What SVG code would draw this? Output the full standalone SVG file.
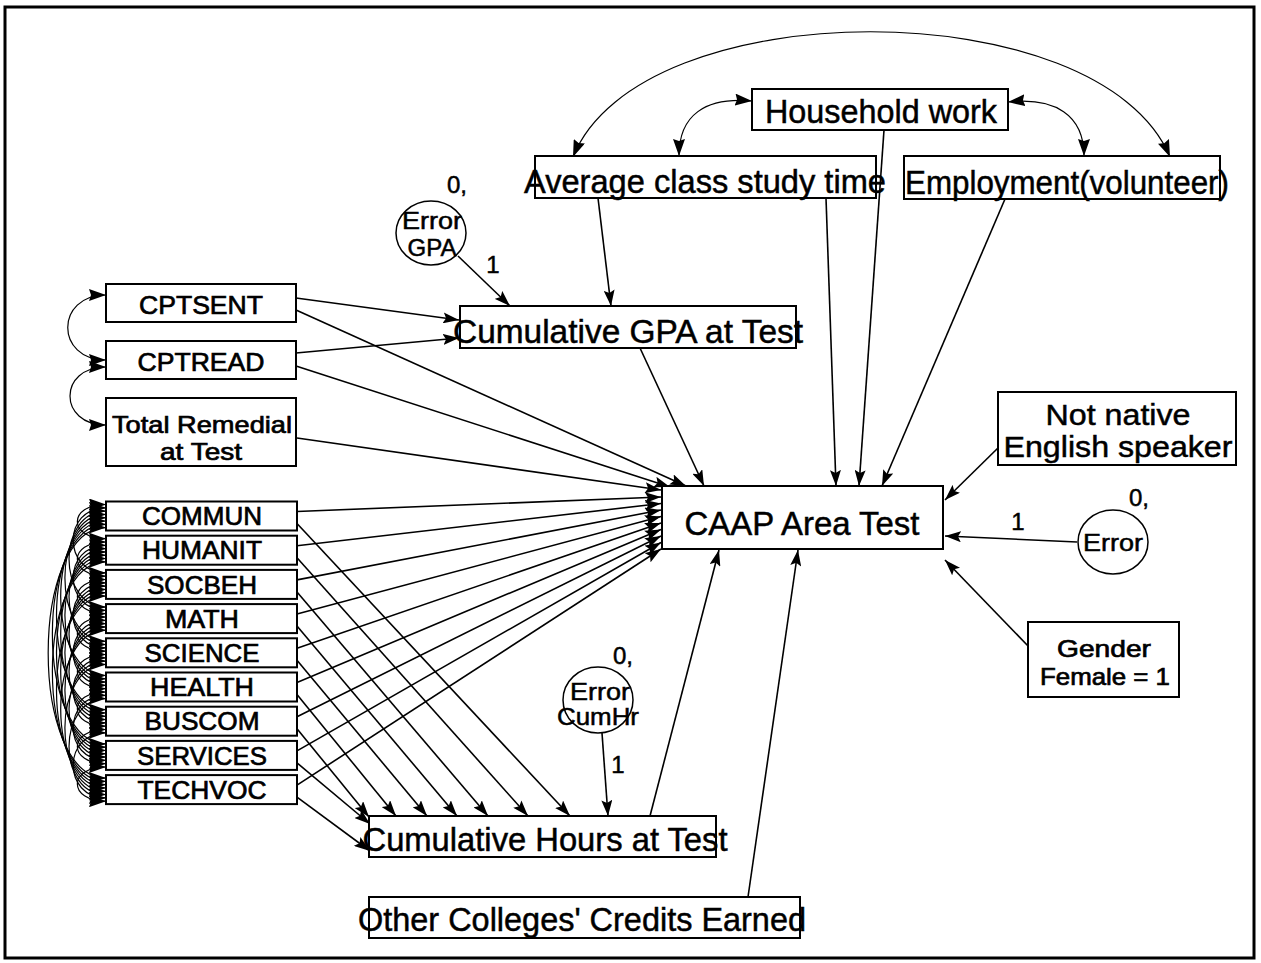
<svg xmlns="http://www.w3.org/2000/svg" width="1261" height="963" viewBox="0 0 1261 963">
<style>
.box{fill:#fff;stroke:#000;stroke-width:2}
.ell{fill:#fff;stroke:#000;stroke-width:1.5}
.t{font-family:"Liberation Sans",Arial,sans-serif;fill:#000;text-anchor:middle;stroke:#000;stroke-width:0.5}
.big{font-size:34px}
.two{font-size:30px}
.med{font-size:26px;stroke-width:0.7}
.med2{font-size:24px;stroke-width:0.7}
.sm{font-size:24px}
.c line,.c path{stroke:#000;stroke-width:1.6;fill:none}
.c .a{marker-end:url(#ah)}
.c .cov{stroke-width:1.2;marker-start:url(#ah2);marker-end:url(#ah2)}
</style>
<defs>
<marker id="ah" viewBox="0 0 16 11" refX="16" refY="5.5" markerWidth="16" markerHeight="11" markerUnits="userSpaceOnUse" orient="auto-start-reverse">
<path d="M0,0 L16,5.5 L0,11 L3,5.5 z" fill="#000"/>
</marker>
<marker id="ah2" viewBox="0 0 17 12" refX="17" refY="6" markerWidth="17" markerHeight="12" markerUnits="userSpaceOnUse" orient="auto-start-reverse">
<path d="M0,0 L17,6 L0,12 L2,6 z" fill="#000"/>
</marker>
</defs>
<rect x="5" y="7" width="1249" height="951" fill="#fff" stroke="#000" stroke-width="3"/>

<g id="connectors" class="c">
<path class="cov" d="M573,157 C640,-10 1100,-10 1170,157"/>
<path class="cov" d="M752,101 C705,97 679,115 679,156"/>
<path class="cov" d="M1008,102 C1055,97 1084,115 1084,156"/>
<path class="cov" d="M106,295 C55,295 55,360 106,360"/>
<path class="cov" d="M106,367 C58,367 58,425 106,425"/>
<line class="a" x1="598" y1="198" x2="611" y2="306"/>
<line class="a" x1="826" y1="198" x2="836" y2="486"/>
<line class="a" x1="884" y1="130" x2="859" y2="486"/>
<line class="a" x1="1005" y1="199" x2="882" y2="486"/>
<line class="a" x1="458" y1="256" x2="510" y2="306"/>
<line class="a" x1="296" y1="298" x2="459" y2="320"/>
<line class="a" x1="296" y1="353" x2="459" y2="338"/>
<line class="a" x1="296" y1="310" x2="686" y2="486"/>
<line class="a" x1="296" y1="366" x2="670" y2="487"/>
<line class="a" x1="297" y1="438" x2="661" y2="490"/>
<line class="a" x1="640" y1="348" x2="704" y2="486"/>
<line class="a" x1="297" y1="511.5" x2="661" y2="497"/>
<line class="a" x1="297" y1="545.7" x2="661" y2="503.5"/>
<line class="a" x1="297" y1="579.9" x2="661" y2="510"/>
<line class="a" x1="297" y1="614.1" x2="661" y2="516.5"/>
<line class="a" x1="297" y1="648.3" x2="661" y2="523"/>
<line class="a" x1="297" y1="682.5" x2="661" y2="529.5"/>
<line class="a" x1="297" y1="716.7" x2="661" y2="536"/>
<line class="a" x1="297" y1="750.9" x2="661" y2="542.5"/>
<line class="a" x1="297" y1="785.1" x2="661" y2="549"/>
<line class="a" x1="297" y1="523.5" x2="570" y2="816"/>
<line class="a" x1="297" y1="557.7" x2="528" y2="816"/>
<line class="a" x1="297" y1="591.9" x2="488" y2="816"/>
<line class="a" x1="297" y1="626.1" x2="457" y2="816"/>
<line class="a" x1="297" y1="660.3" x2="427" y2="816"/>
<line class="a" x1="297" y1="694.5" x2="396" y2="816"/>
<line class="a" x1="297" y1="728.7" x2="369" y2="817"/>
<line class="a" x1="297" y1="762.9" x2="370" y2="824"/>
<line class="a" x1="297" y1="797.1" x2="370" y2="851"/>
<line class="a" x1="602" y1="733" x2="608" y2="816"/>
<line class="a" x1="650" y1="816" x2="719" y2="550"/>
<line class="a" x1="748" y1="897" x2="798" y2="550"/>
<line class="a" x1="1000" y1="446" x2="945" y2="500"/>
<line class="a" x1="1077" y1="542" x2="945" y2="536"/>
<line class="a" x1="1030" y1="648" x2="945" y2="560"/>
<path class="cov" d="M106,504.5 C67.8,504.5 67.8,538.7 106,538.7"/>
<path class="cov" d="M106,507.8 C62.3,507.8 62.3,572.9 106,572.9"/>
<path class="cov" d="M106,511.1 C56.7,511.1 56.7,607.1 106,607.1"/>
<path class="cov" d="M106,514.4 C51.2,514.4 51.2,641.3 106,641.3"/>
<path class="cov" d="M106,517.7 C45.6,517.7 45.6,675.5 106,675.5"/>
<path class="cov" d="M106,521 C40,521 40,709.7 106,709.7"/>
<path class="cov" d="M106,524.3 C34.5,524.3 34.5,743.9 106,743.9"/>
<path class="cov" d="M106,527.6 C28.9,527.6 28.9,778.1 106,778.1"/>
<path class="cov" d="M106,542 C67.8,542 67.8,576.2 106,576.2"/>
<path class="cov" d="M106,545.3 C62.3,545.3 62.3,610.4 106,610.4"/>
<path class="cov" d="M106,548.6 C56.7,548.6 56.7,644.6 106,644.6"/>
<path class="cov" d="M106,551.9 C51.2,551.9 51.2,678.8 106,678.8"/>
<path class="cov" d="M106,555.2 C45.6,555.2 45.6,713 106,713"/>
<path class="cov" d="M106,558.5 C40,558.5 40,747.2 106,747.2"/>
<path class="cov" d="M106,561.8 C34.5,561.8 34.5,781.4 106,781.4"/>
<path class="cov" d="M106,579.5 C67.8,579.5 67.8,613.7 106,613.7"/>
<path class="cov" d="M106,582.8 C62.3,582.8 62.3,647.9 106,647.9"/>
<path class="cov" d="M106,586.1 C56.7,586.1 56.7,682.1 106,682.1"/>
<path class="cov" d="M106,589.4 C51.2,589.4 51.2,716.3 106,716.3"/>
<path class="cov" d="M106,592.7 C45.6,592.7 45.6,750.5 106,750.5"/>
<path class="cov" d="M106,596 C40,596 40,784.7 106,784.7"/>
<path class="cov" d="M106,617 C67.8,617 67.8,651.2 106,651.2"/>
<path class="cov" d="M106,620.3 C62.3,620.3 62.3,685.4 106,685.4"/>
<path class="cov" d="M106,623.6 C56.7,623.6 56.7,719.6 106,719.6"/>
<path class="cov" d="M106,626.9 C51.2,626.9 51.2,753.8 106,753.8"/>
<path class="cov" d="M106,630.2 C45.6,630.2 45.6,788 106,788"/>
<path class="cov" d="M106,654.5 C67.8,654.5 67.8,688.7 106,688.7"/>
<path class="cov" d="M106,657.8 C62.3,657.8 62.3,722.9 106,722.9"/>
<path class="cov" d="M106,661.1 C56.7,661.1 56.7,757.1 106,757.1"/>
<path class="cov" d="M106,664.4 C51.2,664.4 51.2,791.3 106,791.3"/>
<path class="cov" d="M106,692 C67.8,692 67.8,726.2 106,726.2"/>
<path class="cov" d="M106,695.3 C62.3,695.3 62.3,760.4 106,760.4"/>
<path class="cov" d="M106,698.6 C56.7,698.6 56.7,794.6 106,794.6"/>
<path class="cov" d="M106,729.5 C67.8,729.5 67.8,763.7 106,763.7"/>
<path class="cov" d="M106,732.8 C62.3,732.8 62.3,797.9 106,797.9"/>
<path class="cov" d="M106,767 C67.8,767 67.8,801.2 106,801.2"/>
</g>

<g id="household"><rect class="box" x="752" y="89" width="256" height="41"/><text class="t big" x="881" y="123" textLength="232" lengthAdjust="spacingAndGlyphs">Household work</text></g>
<g id="avgstudy"><rect class="box" x="535" y="156" width="341" height="42"/><text class="t big" x="705" y="193" textLength="362" lengthAdjust="spacingAndGlyphs">Average class study time</text></g>
<g id="employment"><rect class="box" x="904" y="156" width="316" height="43"/><text class="t big" x="1067" y="194" textLength="324" lengthAdjust="spacingAndGlyphs">Employment(volunteer)</text></g>
<g id="errgpa"><ellipse class="ell" cx="431" cy="233" rx="35" ry="32"/><text class="t sm" x="432" y="229" textLength="60" lengthAdjust="spacingAndGlyphs">Error</text><text class="t sm" x="432" y="256">GPA</text><text class="t sm" x="457" y="193">0,</text><text class="t sm" x="493" y="273">1</text></g>
<g id="gpa"><rect class="box" x="460" y="306" width="336" height="42"/><text class="t big" x="628" y="343" textLength="350" lengthAdjust="spacingAndGlyphs">Cumulative GPA at Test</text></g>
<g id="cptsent"><rect class="box" x="106" y="284" width="190" height="38"/><text class="t med" x="201" y="314" textLength="124" lengthAdjust="spacingAndGlyphs">CPTSENT</text></g>
<g id="cptread"><rect class="box" x="106" y="341" width="190" height="38"/><text class="t med" x="201" y="371" textLength="127" lengthAdjust="spacingAndGlyphs">CPTREAD</text></g>
<g id="remedial"><rect class="box" x="106" y="398" width="190" height="68"/><text class="t med2" x="202" y="433" textLength="180" lengthAdjust="spacingAndGlyphs">Total Remedial</text><text class="t med2" x="201" y="460" textLength="82" lengthAdjust="spacingAndGlyphs">at Test</text></g>
<g id="commun"><rect class="box" x="106" y="501.5" width="191" height="29"/><text class="t med" x="202" y="525" textLength="120" lengthAdjust="spacingAndGlyphs">COMMUN</text></g>
<g id="humanit"><rect class="box" x="106" y="535.7" width="191" height="29"/><text class="t med" x="202" y="559" textLength="120" lengthAdjust="spacingAndGlyphs">HUMANIT</text></g>
<g id="socbeh"><rect class="box" x="106" y="569.9" width="191" height="29"/><text class="t med" x="202" y="594" textLength="110" lengthAdjust="spacingAndGlyphs">SOCBEH</text></g>
<g id="math"><rect class="box" x="106" y="604.1" width="191" height="29"/><text class="t med" x="202" y="628" textLength="74" lengthAdjust="spacingAndGlyphs">MATH</text></g>
<g id="science"><rect class="box" x="106" y="638.3" width="191" height="29"/><text class="t med" x="202" y="662" textLength="115" lengthAdjust="spacingAndGlyphs">SCIENCE</text></g>
<g id="health"><rect class="box" x="106" y="672.5" width="191" height="29"/><text class="t med" x="202" y="696" textLength="104" lengthAdjust="spacingAndGlyphs">HEALTH</text></g>
<g id="buscom"><rect class="box" x="106" y="706.7" width="191" height="29"/><text class="t med" x="202" y="730" textLength="115" lengthAdjust="spacingAndGlyphs">BUSCOM</text></g>
<g id="services"><rect class="box" x="106" y="740.9" width="191" height="29"/><text class="t med" x="202" y="765" textLength="130" lengthAdjust="spacingAndGlyphs">SERVICES</text></g>
<g id="techvoc"><rect class="box" x="106" y="775.1" width="191" height="29"/><text class="t med" x="202" y="799" textLength="129" lengthAdjust="spacingAndGlyphs">TECHVOC</text></g>
<g id="caap"><rect class="box" x="662" y="486" width="281" height="63"/><text class="t" style="font-size:34px" x="802" y="535" textLength="235" lengthAdjust="spacingAndGlyphs">CAAP Area Test</text></g>
<g id="notnative"><rect class="box" x="998" y="392" width="238" height="73"/><text class="t two" x="1118" y="425" textLength="145" lengthAdjust="spacingAndGlyphs">Not native</text><text class="t two" x="1118" y="457" textLength="229" lengthAdjust="spacingAndGlyphs">English speaker</text></g>
<g id="error"><ellipse class="ell" cx="1113" cy="542" rx="35" ry="32"/><text class="t sm" x="1113" y="551" textLength="60" lengthAdjust="spacingAndGlyphs">Error</text><text class="t sm" x="1139" y="506">0,</text><text class="t sm" x="1018" y="530">1</text></g>
<g id="gender"><rect class="box" x="1028" y="622" width="151" height="75"/><text class="t med2" x="1104" y="657" textLength="94" lengthAdjust="spacingAndGlyphs">Gender</text><text class="t med2" x="1105" y="685" textLength="130" lengthAdjust="spacingAndGlyphs">Female = 1</text></g>
<g id="errcumhr"><ellipse class="ell" cx="598" cy="700" rx="35" ry="33"/><text class="t sm" x="600" y="700" textLength="60" lengthAdjust="spacingAndGlyphs">Error</text><text class="t sm" x="598" y="725" textLength="82" lengthAdjust="spacingAndGlyphs">CumHr</text><text class="t sm" x="623" y="664">0,</text><text class="t sm" x="618" y="773">1</text></g>
<g id="cumhours"><rect class="box" x="369" y="816" width="347" height="41"/><text class="t big" x="545" y="851" textLength="365" lengthAdjust="spacingAndGlyphs">Cumulative Hours at Test</text></g>
<g id="othercredits"><rect class="box" x="369" y="897" width="431" height="41"/><text class="t big" x="582" y="931" textLength="448" lengthAdjust="spacingAndGlyphs">Other Colleges' Credits Earned</text></g>
</svg>
